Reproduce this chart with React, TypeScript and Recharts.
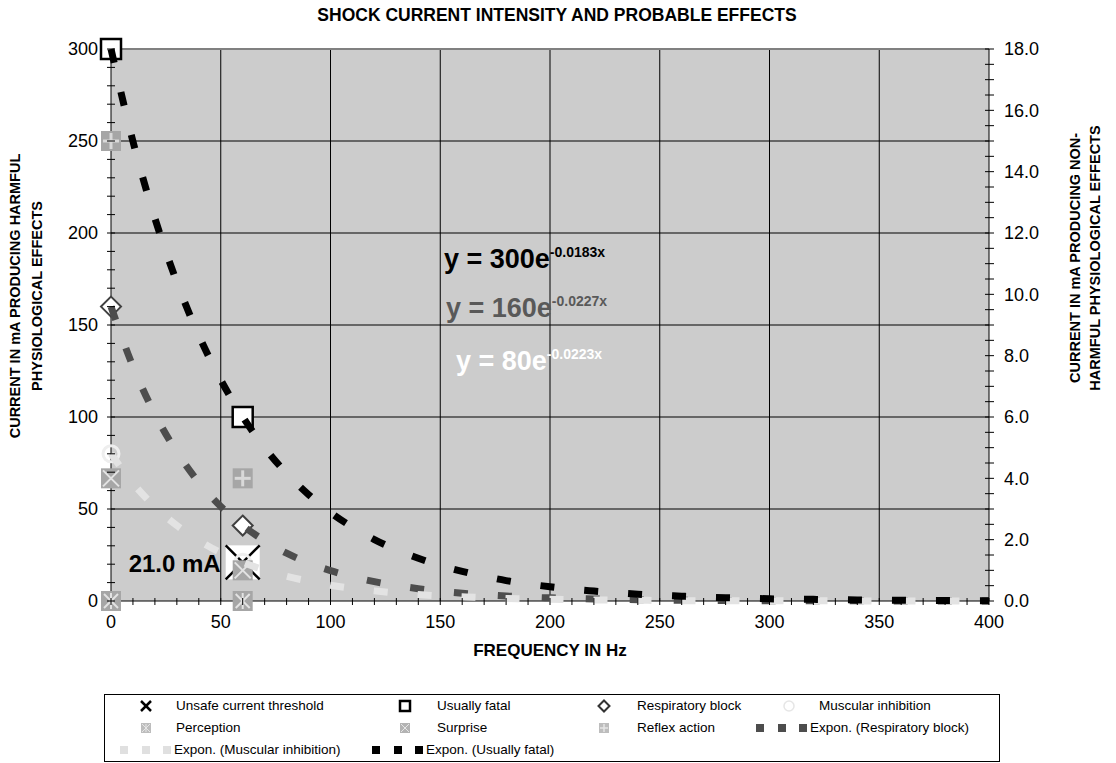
import React from 'react';
import {
  ComposedChart, XAxis, YAxis, Scatter, Line, ReferenceArea, ReferenceLine,
} from 'recharts';

// ---- Data ----
const unsafeThreshold = [{ x: 60, y: 21 }];
const usuallyFatal = [{ x: 0, y: 300 }, { x: 60, y: 100 }];
const respiratoryBlock = [{ x: 0, y: 160 }, { x: 60, y: 41 }];
const muscularInhibition = [{ x: 0, y: 80 }, { x: 60, y: 21 }];
// right-axis series (non-harmful effects)
const perception = [{ x: 0, y: 0 }, { x: 60, y: 0 }];
const surprise = [{ x: 0, y: 4.0 }, { x: 60, y: 1.0 }];
const reflexAction = [{ x: 0, y: 15.0 }, { x: 60, y: 4.0 }];

// trendline curves every 10 Hz
const trendX = [0, 10, 20, 30, 40, 50, 60, 70, 80, 90, 100, 110, 120, 130, 140, 150, 160, 170, 180, 190, 200,
  210, 220, 230, 240, 250, 260, 270, 280, 290, 300, 310, 320, 330, 340, 350, 360, 370, 380, 390, 400];
const fatalTrendY = [300, 249.8, 208.0, 173.3, 144.3, 120.2, 100.1, 83.3, 69.4, 57.8, 48.1, 40.1, 33.4, 27.8, 23.2,
  19.3, 16.1, 13.4, 11.1, 9.3, 7.7, 6.4, 5.4, 4.5, 3.7, 3.1, 2.6, 2.1, 1.8, 1.5, 1.2, 1.0, 0.9, 0.7, 0.6, 0.5, 0.4,
  0.3, 0.3, 0.2, 0.2];
const respTrendY = [160, 127.5, 101.6, 81.0, 64.5, 51.4, 41.0, 32.7, 26.0, 20.7, 16.5, 13.2, 10.5, 8.4, 6.7, 5.3,
  4.2, 3.4, 2.7, 2.1, 1.7, 1.4, 1.1, 0.9, 0.7, 0.5, 0.4, 0.3, 0.3, 0.2, 0.2, 0.1, 0.1, 0.1, 0.1, 0.1, 0.0, 0.0,
  0.0, 0.0, 0.0];
const muscTrendY = [80, 64.0, 51.2, 41.0, 32.8, 26.2, 21.0, 16.8, 13.4, 10.8, 8.6, 6.9, 5.5, 4.4, 3.5, 2.8, 2.3,
  1.8, 1.4, 1.2, 0.9, 0.7, 0.6, 0.5, 0.4, 0.3, 0.2, 0.2, 0.2, 0.1, 0.1, 0.1, 0.1, 0.1, 0.0, 0.0, 0.0, 0.0, 0.0,
  0.0, 0.0];

const xTicks = Array.from({ length: 41 }, (_, i) => i * 10);
const leftTicks = Array.from({ length: 31 }, (_, i) => i * 10);
const rightTicks = Array.from({ length: 37 }, (_, i) => i * 0.5);
const gridX = [50, 100, 150, 200, 250, 300, 350];
const gridY = [50, 100, 150, 200, 250];

const fatalTrend = trendX.map((x, i) => ({ x, y: fatalTrendY[i] }));
const respTrend = trendX.map((x, i) => ({ x, y: respTrendY[i] }));
const muscTrend = trendX.map((x, i) => ({ x, y: muscTrendY[i] }));

const FONT = '"Liberation Sans", Arial, sans-serif';
const DASH = '14 30';

// ---- Ticks ----
const LeftTick = (p: any) => {
  const { x, y, payload } = p;
  const v = payload.value;
  return (
    <g>
      <line x1={x - 4} x2={x + 4} y1={y} y2={y} stroke="#000" strokeWidth={1} />
      {v % 50 === 0 && (
        <text x={x - 13} y={y} dy="0.36em" textAnchor="end" fontSize={18} fontFamily={FONT} fill="#000">{v}</text>
      )}
    </g>
  );
};
const BottomTick = (p: any) => {
  const { x, y, payload } = p;
  const v = payload.value;
  return (
    <g>
      <line x1={x} x2={x} y1={y - 3} y2={y + 4} stroke="#000" strokeWidth={1} />
      {v % 50 === 0 && (
        <text x={x} y={y + 27} textAnchor="middle" fontSize={18} fontFamily={FONT} fill="#000">{v}</text>
      )}
    </g>
  );
};
const RightTick = (p: any) => {
  const { x, y, payload } = p;
  const v = payload.value;
  const major = Math.abs(v % 2) < 1e-9;
  return (
    <g>
      <line x1={x - 4} x2={x + 5} y1={y} y2={y} stroke="#000" strokeWidth={1} />
      {major && (
        <text x={x + 15} y={y} dy="0.36em" textAnchor="start" fontSize={18} fontFamily={FONT} fill="#000">{v.toFixed(1)}</text>
      )}
    </g>
  );
};

// ---- Marker shapes ----
const SquareShape = (p: any) => (
  <rect x={p.cx - 10} y={p.cy - 10} width={20} height={20} fill="#fff" stroke="#000" strokeWidth={2.5} />
);
const DiamondShape = (p: any) => (
  <polygon points={`${p.cx},${p.cy - 10} ${p.cx + 10},${p.cy} ${p.cx},${p.cy + 10} ${p.cx - 10},${p.cy}`}
    fill="#fff" stroke="#404040" strokeWidth={2} />
);
const CircleShape = (p: any) => (
  <circle cx={p.cx} cy={p.cy} r={8} fill="none" stroke="#eeeeee" strokeWidth={3} />
);
const PerceptionShape = (p: any) => (
  <g>
    <rect x={p.cx - 10} y={p.cy - 10} width={20} height={20} fill="#a6a6a6" />
    <line x1={p.cx - 7} y1={p.cy - 7} x2={p.cx + 7} y2={p.cy + 7} stroke="#e3e3e3" strokeWidth={2} />
    <line x1={p.cx + 7} y1={p.cy - 7} x2={p.cx - 7} y2={p.cy + 7} stroke="#e3e3e3" strokeWidth={2} />
    <line x1={p.cx} y1={p.cy - 8} x2={p.cx} y2={p.cy + 8} stroke="#e3e3e3" strokeWidth={2} />
  </g>
);
const SurpriseShape = (p: any) => (
  <g>
    <rect x={p.cx - 10} y={p.cy - 10} width={20} height={20} fill="#a6a6a6" />
    <line x1={p.cx - 8} y1={p.cy - 8} x2={p.cx + 8} y2={p.cy + 8} stroke="#e3e3e3" strokeWidth={2} />
    <line x1={p.cx + 8} y1={p.cy - 8} x2={p.cx - 8} y2={p.cy + 8} stroke="#e3e3e3" strokeWidth={2} />
  </g>
);
const ReflexShape = (p: any) => (
  <g>
    <rect x={p.cx - 10} y={p.cy - 10} width={20} height={20} fill="#a6a6a6" />
    <line x1={p.cx - 8} y1={p.cy} x2={p.cx + 8} y2={p.cy} stroke="#d9d9d9" strokeWidth={3} />
    <line x1={p.cx} y1={p.cy - 8} x2={p.cx} y2={p.cy + 8} stroke="#d9d9d9" strokeWidth={3} />
  </g>
);
const UnsafeShape = (p: any) => (
  <g>
    <rect x={p.cx - 17} y={p.cy - 17} width={34} height={34} fill="#fff" />
    <line x1={p.cx - 17} y1={p.cy - 17} x2={p.cx + 17} y2={p.cy + 17} stroke="#000" strokeWidth={2.5} />
    <line x1={p.cx + 17} y1={p.cy - 17} x2={p.cx - 17} y2={p.cy + 17} stroke="#000" strokeWidth={2.5} />
    <text x={p.cx - 22} y={p.cy + 10} textAnchor="end" fontSize={24} fontWeight="bold" fontFamily={FONT} fill="#000">21.0 mA</text>
  </g>
);

// ---- Legend (HTML) ----
const LegIcon = ({ kind }: { kind: string }) => {
  const s = 14;
  if (kind === 'x') return (
    <svg width={s} height={s}><line x1={2} y1={2} x2={12} y2={12} stroke="#000" strokeWidth={2.5} /><line x1={12} y1={2} x2={2} y2={12} stroke="#000" strokeWidth={2.5} /></svg>
  );
  if (kind === 'sq') return (<svg width={s} height={s}><rect x={2} y={2} width={10} height={10} fill="#fff" stroke="#000" strokeWidth={2.5} /></svg>);
  if (kind === 'dia') return (<svg width={s} height={s}><polygon points="7,1.5 12.5,7 7,12.5 1.5,7" fill="#fff" stroke="#333" strokeWidth={2} /></svg>);
  if (kind === 'circ') return (<svg width={s} height={s}><circle cx={7} cy={7} r={5} fill="none" stroke="#e6e6e6" strokeWidth={1.5} /></svg>);
  if (kind === 'perc') return (<svg width={s} height={s}><rect x={2} y={2} width={10} height={10} fill="#bdbdbd" /><line x1={3} y1={3} x2={11} y2={11} stroke="#e6e6e6" /><line x1={11} y1={3} x2={3} y2={11} stroke="#e6e6e6" /><line x1={7} y1={3} x2={7} y2={11} stroke="#e6e6e6" /></svg>);
  if (kind === 'surp') return (<svg width={s} height={s}><rect x={2} y={2} width={10} height={10} fill="#b3b3b3" /><line x1={3} y1={3} x2={11} y2={11} stroke="#e6e6e6" /><line x1={11} y1={3} x2={3} y2={11} stroke="#e6e6e6" /></svg>);
  if (kind === 'refl') return (<svg width={s} height={s}><rect x={2} y={2} width={10} height={10} fill="#bdbdbd" /><line x1={3} y1={7} x2={11} y2={7} stroke="#e6e6e6" strokeWidth={1.5} /><line x1={7} y1={3} x2={7} y2={11} stroke="#e6e6e6" strokeWidth={1.5} /></svg>);
  return null;
};
const DashIcon = ({ color }: { color: string }) => (
  <svg width={52} height={14}>
    <rect x={0} y={3} width={8} height={8} fill={color} />
    <rect x={22} y={3} width={8} height={8} fill={color} />
    <rect x={43} y={3} width={8} height={8} fill={color} />
  </svg>
);

type LegItem = { icon: React.ReactNode; iconX: number; textX: number; row: number; label: string };
const legendItems: LegItem[] = [
  { icon: <LegIcon kind="x" />, iconX: 145, textX: 175, row: 0, label: 'Unsafe current threshold' },
  { icon: <LegIcon kind="sq" />, iconX: 404, textX: 436, row: 0, label: 'Usually fatal' },
  { icon: <LegIcon kind="dia" />, iconX: 603, textX: 636, row: 0, label: 'Respiratory block' },
  { icon: <LegIcon kind="circ" />, iconX: 788, textX: 818, row: 0, label: 'Muscular inhibition' },
  { icon: <LegIcon kind="perc" />, iconX: 145, textX: 175, row: 1, label: 'Perception' },
  { icon: <LegIcon kind="surp" />, iconX: 404, textX: 436, row: 1, label: 'Surprise' },
  { icon: <LegIcon kind="refl" />, iconX: 603, textX: 636, row: 1, label: 'Reflex action' },
];

const Legend2 = () => {
  const left = 104, top = 694;
  const rowY = [705, 727, 749];
  const txt: React.CSSProperties = { position: 'absolute', fontFamily: FONT, fontSize: 13.5, color: '#000', whiteSpace: 'nowrap', lineHeight: '16px' };
  return (
    <div style={{ position: 'absolute', left: left - 8, top: top - 8, width: 1000 - left, height: 762 - top, border: '1px solid #000', boxSizing: 'border-box', background: '#fff' }}>
      {legendItems.map((it, i) => (
        <React.Fragment key={i}>
          <div style={{ position: 'absolute', left: it.iconX - 7 - left, top: rowY[it.row] - 7 - top, width: 14, height: 14 }}>{it.icon}</div>
          <div style={{ ...txt, left: it.textX - left, top: rowY[it.row] - 8 - top }}>{it.label}</div>
        </React.Fragment>
      ))}
      <div style={{ position: 'absolute', left: 809 - 54 - left, top: rowY[1] - 7 - top }}><DashIcon color="#4d4d4d" /></div>
      <div style={{ ...txt, left: 809 - left, top: rowY[1] - 8 - top }}>Expon. (Respiratory block)</div>
      <div style={{ position: 'absolute', left: 173 - 54 - left, top: rowY[2] - 7 - top }}><DashIcon color="#e0e0e0" /></div>
      <div style={{ ...txt, left: 173 - left, top: rowY[2] - 8 - top }}>Expon. (Muscular inhibition)</div>
      <div style={{ position: 'absolute', left: 425 - 54 - left, top: rowY[2] - 7 - top }}><DashIcon color="#000" /></div>
      <div style={{ ...txt, left: 425 - left, top: rowY[2] - 8 - top }}>Expon. (Usually fatal)</div>
    </div>
  );
};

// ---- Overlay texts (page coordinates) ----
const Overlay = () => (
  <svg width={1116} height={763} style={{ position: 'absolute', left: -8, top: -8, pointerEvents: 'none' }} fontFamily={FONT}>
    <text x={557} y={21} textAnchor="middle" fontSize={17.5} fontWeight="bold">SHOCK CURRENT INTENSITY AND PROBABLE EFFECTS</text>
    <text x={550} y={656} textAnchor="middle" fontSize={17} fontWeight="bold">FREQUENCY IN Hz</text>
    <g transform="translate(15, 296) rotate(-90)">
      <text x={0} y={0} dy="0.35em" textAnchor="middle" fontSize={14.5} fontWeight="bold">CURRENT IN mA PRODUCING HARMFUL</text>
    </g>
    <g transform="translate(37, 296) rotate(-90)">
      <text x={0} y={0} dy="0.35em" textAnchor="middle" fontSize={14.5} fontWeight="bold">PHYSIOLOGICAL EFFECTS</text>
    </g>
    <g transform="translate(1075, 258) rotate(-90)">
      <text x={0} y={0} dy="0.35em" textAnchor="middle" fontSize={14.5} fontWeight="bold">CURRENT IN mA PRODUCING NON-</text>
    </g>
    <g transform="translate(1095, 258) rotate(-90)">
      <text x={0} y={0} dy="0.35em" textAnchor="middle" fontSize={14.5} fontWeight="bold">HARMFUL PHYSIOLOGICAL EFFECTS</text>
    </g>
    <text x={444} y={268} fontSize={27} fontWeight="bold" fill="#000">y = 300e<tspan dy={-11} fontSize={14}>-0.0183x</tspan></text>
    <text x={446} y={317} fontSize={27} fontWeight="bold" fill="#595959">y = 160e<tspan dy={-11} fontSize={14}>-0.0227x</tspan></text>
    <text x={456} y={370} fontSize={27} fontWeight="bold" fill="#ffffff">y = 80e<tspan dy={-11} fontSize={14}>-0.0223x</tspan></text>
  </svg>
);

export default function App() {
  return (
    <div style={{ position: 'relative', width: 1100, height: 755 }}>
      <ComposedChart width={1100} height={755} margin={{ top: 41, right: 59, bottom: 132, left: 43 }}>
        <XAxis dataKey="x" type="number" domain={[0, 400]} ticks={xTicks} interval={0} tick={<BottomTick />}
          tickLine={false} tickSize={0} tickMargin={0} height={30} axisLine={{ stroke: '#000', strokeWidth: 1 }} />
        <YAxis yAxisId="left" dataKey="y" type="number" domain={[0, 300]} ticks={leftTicks} interval={0} tick={<LeftTick />}
          tickLine={false} tickSize={0} tickMargin={0} width={60} axisLine={{ stroke: '#000', strokeWidth: 1 }} />
        <YAxis yAxisId="right" orientation="right" dataKey="y" type="number" domain={[0, 18]} ticks={rightTicks} interval={0}
          tick={<RightTick />} tickLine={false} tickSize={0} tickMargin={0} width={60} axisLine={{ stroke: '#000', strokeWidth: 1 }} />

        <ReferenceArea yAxisId="left" x1={0} x2={400} y1={0} y2={300} fill="#cccccc" fillOpacity={1} stroke="none" zIndex={-200} />
        {gridY.map((v) => (
          <ReferenceLine key={'gy' + v} yAxisId="left" y={v} stroke="#000" strokeWidth={1} zIndex={-150} />
        ))}
        {gridX.map((v) => (
          <ReferenceLine key={'gx' + v} yAxisId="left" x={v} stroke="#000" strokeWidth={1} zIndex={-150} />
        ))}
        <ReferenceLine yAxisId="left" y={300} stroke="#808080" strokeWidth={2} zIndex={-150} />

        <Scatter name="Unsafe current threshold" yAxisId="left" data={unsafeThreshold} shape={UnsafeShape} isAnimationActive={false} />
        <Scatter name="Usually fatal" yAxisId="left" data={usuallyFatal} shape={SquareShape} isAnimationActive={false} />
        <Scatter name="Respiratory block" yAxisId="left" data={respiratoryBlock} shape={DiamondShape} isAnimationActive={false} />
        <Scatter name="Muscular inhibition" yAxisId="left" data={muscularInhibition} shape={CircleShape} isAnimationActive={false} />
        <Scatter name="Perception" yAxisId="right" data={perception} shape={PerceptionShape} isAnimationActive={false} />
        <Scatter name="Surprise" yAxisId="right" data={surprise} shape={SurpriseShape} isAnimationActive={false} />
        <Scatter name="Reflex action" yAxisId="right" data={reflexAction} shape={ReflexShape} isAnimationActive={false} />

        <Line yAxisId="left" data={respTrend} dataKey="y" type="monotone" stroke="#4d4d4d" strokeWidth={7}
          strokeDasharray={DASH} dot={false} activeDot={false} isAnimationActive={false} zIndex={700} />
        <Line yAxisId="left" data={muscTrend} dataKey="y" type="monotone" stroke="#e3e3e3" strokeWidth={7}
          strokeDasharray={DASH} dot={false} activeDot={false} isAnimationActive={false} zIndex={700} />
        <Line yAxisId="left" data={fatalTrend} dataKey="y" type="monotone" stroke="#000" strokeWidth={7}
          strokeDasharray={DASH} dot={false} activeDot={false} isAnimationActive={false} zIndex={700} />
      </ComposedChart>
      <Overlay />
      <Legend2 />
    </div>
  );
}
